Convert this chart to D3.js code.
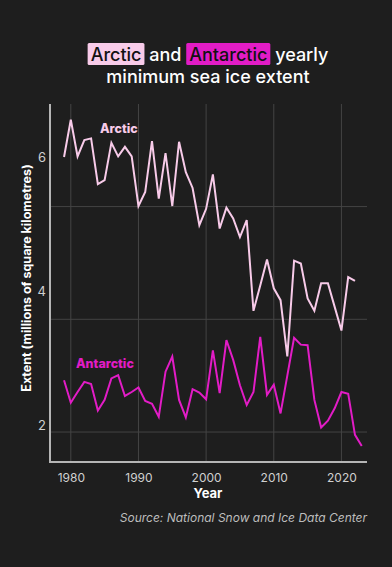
<!DOCTYPE html>
<html><head><meta charset="utf-8">
<script src="https://cdn.jsdelivr.net/npm/d3@7"></script>
<style>
html,body{margin:0;padding:0;background:#1e1e1e;}
svg{display:block;}
</style></head>
<body>
<svg id="c" width="392" height="567"></svg>
<script>
const arcticYears = d3.range(1979, 2023);
const arcticValues = [6.88,7.54,6.89,7.18,7.21,6.40,6.47,7.13,6.89,7.06,6.89,6.01,6.26,7.16,6.14,6.95,6.01,7.15,6.61,6.33,5.67,5.96,6.57,5.61,5.98,5.79,5.46,5.76,4.15,4.60,5.06,4.55,4.34,3.34,5.04,4.99,4.37,4.15,4.64,4.64,4.22,3.80,4.75,4.68];
const antarcticYears = d3.range(1979, 2024);
const antarcticValues = [2.92,2.52,2.71,2.89,2.85,2.38,2.57,2.95,3.01,2.64,2.71,2.79,2.55,2.50,2.27,3.07,3.34,2.57,2.26,2.76,2.70,2.58,3.45,2.69,3.63,3.28,2.83,2.48,2.71,3.69,2.66,2.84,2.33,3.00,3.67,3.55,3.54,2.57,2.08,2.20,2.42,2.71,2.68,1.95,1.75];
const xTicks = [1980,1990,2000,2010,2020];
const yTicks = [2,4,6];

(function(){
const bg = "#1e1e1e", arcticCol = "#f8cbe9", antCol = "#e21cc6";
const svg = d3.select("#c");
svg.append("rect").attr("width",392).attr("height",567).attr("fill",bg);

const pL=50, pR=367, pT=104, pB=462;
const x = d3.scaleLinear().domain([1977, 2024]).range([50.5, 368.5]);
const y = d3.scaleLinear().domain([1.468, 7.82]).range([pB, pT]);
// tick labels in the reference are offset from their gridlines
const yLab = d3.scaleLinear().domain([2, 6]).range([425, 157]);

// gridlines
svg.append("g").selectAll("line").data(xTicks).join("line")
  .attr("x1",d=>x(d)).attr("x2",d=>x(d)).attr("y1",pT).attr("y2",pB)
  .attr("stroke","#444").attr("stroke-width",1);
svg.append("g").selectAll("line").data(yTicks).join("line")
  .attr("x1",pL).attr("x2",pR).attr("y1",d=>y(d)).attr("y2",d=>y(d))
  .attr("stroke","#444").attr("stroke-width",1);

// axes
const xAxis = svg.append("g").attr("transform",`translate(0,${pB})`)
  .call(d3.axisBottom(x).tickValues(xTicks).tickFormat(d3.format("d")).tickSize(0).tickPadding(11));
xAxis.select(".domain").remove();
xAxis.selectAll("text").attr("fill","#d0d0d0").style("font-family","Inter, sans-serif").style("font-size","12px");

const yAxis = svg.append("g").attr("transform",`translate(${pL-4},0)`)
  .call(d3.axisLeft(yLab).tickValues(yTicks).tickFormat(d3.format("d")).tickSize(0).tickPadding(0));
yAxis.select(".domain").remove();
yAxis.selectAll("text").attr("fill","#d0d0d0").style("font-family","Inter, sans-serif").style("font-size","13px");

svg.append("line").attr("x1",pL).attr("x2",pL).attr("y1",pT).attr("y2",pB+1)
  .attr("stroke","#b5b5b5").attr("stroke-width",2);
svg.append("line").attr("x1",pL-1).attr("x2",pR).attr("y1",pB).attr("y2",pB)
  .attr("stroke","#b5b5b5").attr("stroke-width",2);

// lines
const line = d3.line().x(d=>x(d[0])).y(d=>y(d[1]));
svg.append("path").datum(d3.zip(arcticYears, arcticValues)).attr("d",line)
  .attr("fill","none").attr("stroke",arcticCol).attr("stroke-width",2).attr("stroke-linejoin","miter");
svg.append("path").datum(d3.zip(antarcticYears, antarcticValues)).attr("d",line)
  .attr("fill","none").attr("stroke",antCol).attr("stroke-width",2).attr("stroke-linejoin","miter");

// series labels
svg.append("text").attr("x",100).attr("y",132.5).text("Arctic")
  .attr("fill",arcticCol).style("font-family","Inter, sans-serif").style("font-weight","800").style("font-size","12.5px");
svg.append("text").attr("x",76).attr("y",367.5).text("Antarctic")
  .attr("fill",antCol).style("font-family","Inter, sans-serif").style("font-weight","800").style("font-size","12.5px");

// axis titles
svg.append("text").attr("x",208).attr("y",498).attr("text-anchor","middle").text("Year")
  .attr("fill","#fff").style("font-family","Inter, sans-serif").style("font-weight","700").style("font-size","13px");
svg.append("text").attr("transform","translate(31,278) rotate(-90)").attr("text-anchor","middle")
  .text("Extent (millions of square kilometres)")
  .attr("fill","#fff").style("font-family","Inter, sans-serif").style("font-weight","700").style("font-size","12.5px");
svg.append("text").attr("x",367).attr("y",522).attr("text-anchor","end")
  .text("Source: National Snow and Ice Data Center")
  .attr("fill","#bdbdbd").style("font-family","Inter, sans-serif").style("font-style","italic").style("font-size","12px");

// title
const tf = "font-family:Inter, sans-serif;font-weight:500;font-size:18px;";
const t1 = svg.append("g");
const parts = [
  {t:"Arctic", bg:arcticCol, fg:"#111"},
  {t:" and ", bg:null, fg:"#fff"},
  {t:"Antarctic", bg:antCol, fg:"#111"},
  {t:" yearly", bg:null, fg:"#fff"}
];
const pad = 3;
const meas = parts.map(p=>{
  const tt = t1.append("text").attr("style",tf).attr("xml:space","preserve").text(p.t);
  const w = tt.node().getComputedTextLength(); tt.remove(); return w;
});
let total = 0;
parts.forEach((p,i)=>{ total += meas[i] + (p.bg? 2*pad : 0); });
let cx = 208 - total/2;
parts.forEach((p,i)=>{
  const w = meas[i] + (p.bg? 2*pad:0);
  if (p.bg) t1.append("rect").attr("x",cx).attr("y",43).attr("width",w).attr("height",22).attr("rx",1.5).attr("fill",p.bg);
  t1.append("text").attr("x",cx + (p.bg?pad:0)).attr("y",60.5).attr("style",tf).attr("xml:space","preserve")
    .attr("fill",p.fg).text(p.t);
  cx += w;
});
svg.append("text").attr("x",208).attr("y",82.5).attr("text-anchor","middle").attr("style",tf)
  .attr("fill","#fff").text("minimum sea ice extent");
})();
</script>
</body></html>
